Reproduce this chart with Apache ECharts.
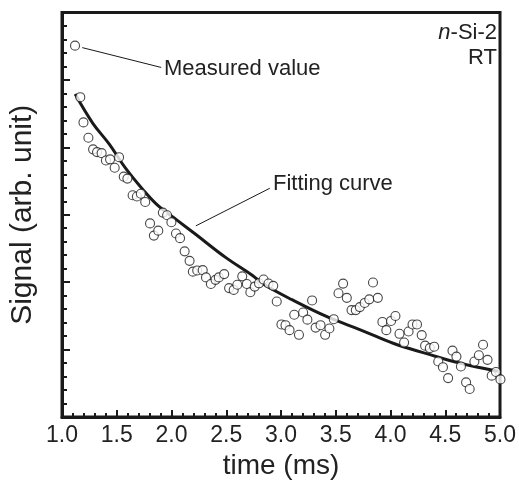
<!DOCTYPE html>
<html>
<head>
<meta charset="utf-8">
<script src="https://cdn.jsdelivr.net/npm/echarts@6/dist/echarts.min.js"></script>
<style>html,body{margin:0;padding:0;background:#fff}#c{width:519px;height:485px}</style>
</head>
<body>
<div id="c"></div>
<script>
// Measured values (time in ms, signal in arb. unit)
var measT = [1.119,1.167,1.196,1.241,1.284,1.320,1.362,1.401,1.439,1.481,1.521,1.564,1.597,1.645,1.684,1.720,1.760,1.804,1.839,1.879,
1.921,1.960,1.999,2.041,2.078,2.120,2.165,2.195,2.235,2.285,2.315,2.360,2.402,2.432,2.481,2.526,2.568,2.601,2.646,2.688,
2.720,2.760,2.799,2.841,2.886,2.929,2.961,3.004,3.041,3.078,3.121,3.164,3.202,3.241,3.284,3.316,3.361,3.403,3.442,3.482,
3.525,3.567,3.601,3.644,3.683,3.720,3.764,3.806,3.840,3.884,3.926,3.962,4.005,4.045,4.082,4.124,4.165,4.201,4.242,4.285,
4.316,4.359,4.399,4.436,4.479,4.526,4.566,4.602,4.643,4.690,4.723,4.766,4.807,4.845,4.886,4.924,4.963,5.004];
var measY = [5.508,4.744,4.370,4.142,3.970,3.929,3.914,3.804,3.822,3.697,3.854,3.565,3.536,3.290,3.271,3.312,3.190,2.872,2.691,2.764,
3.032,2.992,2.888,2.722,2.653,2.457,2.316,2.156,2.174,2.178,2.071,1.973,2.034,2.071,2.120,1.912,1.885,1.961,2.086,1.973,
1.851,1.934,1.983,2.039,1.980,1.945,1.714,1.373,1.362,1.288,1.517,1.219,1.550,1.444,1.729,1.326,1.362,1.219,1.312,1.451,
1.836,1.979,1.767,1.586,1.586,1.630,1.692,1.745,1.995,1.767,1.410,1.288,1.425,1.498,1.234,1.105,1.268,1.373,1.373,1.215,
1.058,1.022,1.043,0.823,0.739,0.577,0.984,0.896,0.749,0.514,0.416,0.823,0.915,1.072,0.848,0.613,0.668,0.558];
// Fitting curve
var curveT = [1.12,1.28,1.43,1.58,1.73,1.88,2.05,2.22,2.50,2.74,2.83,3.10,3.43,3.73,4.03,4.33,4.63,4.98];
var curveY = [4.79,4.36,4.05,3.69,3.39,3.13,2.92,2.71,2.36,2.10,1.98,1.74,1.48,1.29,1.09,0.94,0.80,0.68];
// Axis ticks
var xTicks = ['1.0','1.5','2.0','2.5','3.0','3.5','4.0','4.5','5.0'];
// Leader lines [from, to] in data space
var measLeader = [[1.185,5.479],[1.906,5.185]];
var fitLeader = [[2.222,2.835],[2.898,3.393]];

var FONT = 'Liberation Sans, Arial, Helvetica, sans-serif';
var meas = measT.map(function(t,i){return [t, measY[i]];});
var curve = curveT.map(function(t,i){return [t, curveY[i]];});

var chart = echarts.init(document.getElementById('c'), null, {renderer:'canvas'});
chart.setOption({
  animation:false,
  backgroundColor:'#fff',
  grid:{left:57.5, right:18, top:12.5, bottom:64, show:true, borderColor:'#1a1a1a', borderWidth:3, containLabel:false},
  xAxis:{
    type:'value', min:1.0, max:5.0, interval:0.5,
    axisLine:{show:true, lineStyle:{color:'#1a1a1a', width:3}},
    axisTick:{show:true, inside:true, length:7, lineStyle:{color:'#1a1a1a', width:2}},
    minorTick:{show:true, splitNumber:5, length:4, lineStyle:{color:'#1a1a1a', width:2}},
    splitLine:{show:false},
    axisLabel:{fontSize:23, color:'#222', fontFamily:FONT, margin:7,
      formatter:function(v){ var i=Math.round((v-1)/0.5); return xTicks[i]!==undefined?xTicks[i]:''; }},
    name:'time (ms)', nameLocation:'middle', nameGap:35,
    nameTextStyle:{fontSize:28, color:'#222', fontFamily:FONT}
  },
  yAxis:{
    type:'value', min:0, max:6, interval:1,
    axisLine:{show:true, lineStyle:{color:'#1a1a1a', width:3}},
    axisTick:{show:true, inside:true, length:8, lineStyle:{color:'#1a1a1a', width:2}},
    minorTick:{show:true, splitNumber:5, length:5, lineStyle:{color:'#1a1a1a', width:2}},
    splitLine:{show:false},
    axisLabel:{show:false},
    name:'Signal (arb. unit)', nameLocation:'middle', nameGap:24,
    nameTextStyle:{fontSize:30, color:'#222', fontFamily:FONT}
  },
  series:[
    {type:'line', data:curve, smooth:0.4, symbol:'none', lineStyle:{color:'#1a1a1a', width:3}, z:2},
    {type:'scatter', data:meas, symbol:'circle', symbolSize:9, clip:false,
      itemStyle:{color:'#fff', borderColor:'#1a1a1a', borderWidth:1.1}, z:3,
      markLine:{silent:true, symbol:'none', animation:false, label:{show:false},
        lineStyle:{color:'#1a1a1a', width:1, type:'solid'},
        data:[
          [{coord:measLeader[0]},{coord:measLeader[1]}],
          [{coord:fitLeader[0]},{coord:fitLeader[1]}]
        ]}
    }
  ],
  graphic:[
    {type:'text', left:164, top:58, style:{text:'Measured value', fill:'#222', font:'22px '+FONT}},
    {type:'text', left:273, top:173, style:{text:'Fitting curve', fill:'#222', font:'22px '+FONT}},
    {type:'text', right:22, top:22, style:{rich:{i:{fontStyle:'italic', fontSize:22, fontFamily:FONT, fill:'#222'}, n:{fontSize:22, fontFamily:FONT, fill:'#222'}}, text:'{i|n}{n|-Si-2}'}},
    {type:'text', right:22, top:47, style:{text:'RT', fill:'#222', font:'22px '+FONT}}
  ]
});
</script>
</body>
</html>
